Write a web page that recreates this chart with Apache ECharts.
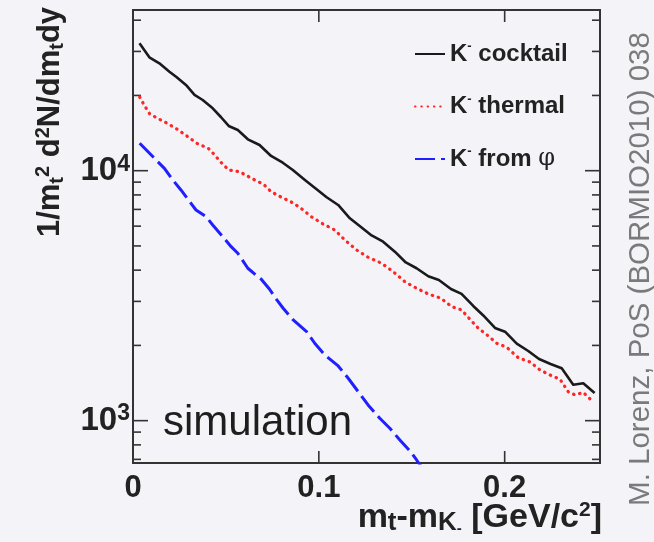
<!DOCTYPE html>
<html>
<head>
<meta charset="utf-8">
<script src="https://cdn.jsdelivr.net/npm/echarts@6/dist/echarts.min.js"></script>
<style>
html,body{margin:0;padding:0;background:#f3f3f8;}
#chart{width:654px;height:542px;}
</style>
</head>
<body>
<div id="chart"></div>
<script>
// ---- data ----
const cocktailX = [0.0035,0.0088,0.0142,0.0196,0.0232,0.0285,0.0331,0.0375,0.0429,0.0474,0.0515,0.0564,0.0618,0.0681,0.0743,0.0806,0.0860,0.0925,0.0988,0.1042,0.1104,0.1167,0.1230,0.1284,0.1346,0.1409,0.1468,0.1526,0.1589,0.1646,0.1711,0.1768,0.1831,0.1885,0.1948,0.2002,0.2065,0.2127,0.2185,0.2247,0.2307,0.2369,0.2423,0.2484];
const cocktailY = [32330,28420,26890,24890,23770,22030,20090,19180,17770,16360,15100,14550,13350,12670,11450,10760,10065,9180,8425,7830,7293,6450,5928,5506,5200,4742,4294,4071,3781,3655,3364,3213,2877,2636,2349,2270,2032,1900,1765,1686,1620,1393,1411,1291];

const thermalX = [0.0036,0.0063,0.0090,0.0133,0.0178,0.0232,0.0286,0.0343,0.0405,0.0435,0.0472,0.0515,0.0573,0.0645,0.0704,0.0743,0.0801,0.0849,0.0898,0.0962,0.1023,0.1086,0.1140,0.1203,0.1265,0.1338,0.1400,0.1463,0.1526,0.1589,0.1657,0.1715,0.1768,0.1813,0.1858,0.1912,0.1957,0.2011,0.2073,0.2136,0.2190,0.2244,0.2298,0.2342,0.2379,0.2423,0.2475];
const thermalY = [19710,18150,16860,16200,15560,14750,13830,12870,12290,11660,10830,10065,9908,9265,8806,8241,7812,7516,7125,6527,6120,5791,5282,4818,4504,4262,3945,3597,3385,3213,3088,2858,2773,2545,2343,2182,2040,1967,1786,1717,1595,1523,1464,1306,1267,1297,1191];

const phiX = [0.0036,0.0124,0.0169,0.0214,0.0258,0.0312,0.0339,0.0393,0.0429,0.0483,0.0528,0.0564,0.0618,0.0654,0.0689,0.0735,0.0774,0.0808,0.0862,0.0934,0.0978,0.1032,0.1104,0.1158,0.1212,0.1265,0.1328,0.1382,0.1436,0.1495,0.1526,0.1560];
const phiY = [12870,11040,10220,9180,8373,7407,6963,6546,6064,5445,4966,4673,4071,3862,3688,3355,3040,2816,2529,2270,2040,1831,1655,1478,1306,1156,1022,932,837,749,696,640];

const seriesNames = ['K- cocktail', 'K- thermal', 'K- from φ'];
const xTickValues = [0, 0.1, 0.2];
const yMajorTicks = [1000, 10000];
const yMinorTicks = [700, 800, 900, 2000, 3000, 4000, 5000, 6000, 7000, 8000, 9000, 20000, 30000, 40000];

// axis limits
const X_MIN = 0, X_MAX = 0.2513;
const Y_MIN = 677, Y_MAX = 43940;

const zip = (xs, ys) => xs.map((x, i) => [x, ys[i]]);
const FONT = 'Liberation Sans';

const chart = echarts.init(document.getElementById('chart'), null, {renderer: 'canvas'});

const yTickData = yMajorTicks.map(v => [X_MIN, v, 15]).concat(yMinorTicks.map(v => [X_MIN, v, 8]));
const xTickData = xTickValues.filter(v => v > 0).map(v => [v, Y_MIN, 12]);

const option = {
  animation: false,
  backgroundColor: '#f3f3f8',
  grid: {left: 133, top: 10, right: 54, bottom: 79, show: true, borderColor: '#333', borderWidth: 2, backgroundColor: 'transparent'},
  xAxis: {
    type: 'value', min: X_MIN, max: X_MAX, interval: 0.1,
    axisLine: {show: false}, axisTick: {show: false}, splitLine: {show: false},
    axisLabel: {
      margin: 10, fontFamily: FONT, fontSize: 31, fontWeight: 'bold', color: '#222',
      showMaxLabel: false,
      formatter: v => (Math.abs(v * 10 - Math.round(v * 10)) < 1e-6 ? String(Math.round(v * 10) / 10) : '')
    }
  },
  yAxis: {
    type: 'log', logBase: 10, min: Y_MIN, max: Y_MAX,
    axisLine: {show: false}, axisTick: {show: false}, splitLine: {show: false}, minorTick: {show: false},
    axisLabel: {
      margin: 3, showMinLabel: false, showMaxLabel: false,
      formatter: v => {
        const l = Math.log10(v), e = Math.round(l);
        if (Math.abs(l - e) > 1e-6) return '';
        return '{a|10}{b|' + e + '}';
      },
      rich: {
        a: {fontFamily: FONT, fontSize: 33, fontWeight: 'bold', color: '#222', lineHeight: 36},
        b: {fontFamily: FONT, fontSize: 23, fontWeight: 'bold', color: '#222', lineHeight: 20, verticalAlign: 'top'}
      }
    }
  },
  legend: {
    orient: 'vertical', left: 414, top: 40, padding: 0, itemWidth: 30, itemHeight: 14, itemGap: 26.5,
    selectedMode: false, data: seriesNames,
    itemStyle: {opacity: 0},
    formatter: name => {
      const rest = name.slice(3);
      if (rest.indexOf('φ') >= 0) return '{k|K}{s|-}{t| from }{p|φ}';
      return '{k|K}{s|-}{t| ' + rest + '}';
    },
    textStyle: {
      rich: {
        k: {fontFamily: FONT, fontSize: 24, fontWeight: 'bold', color: '#222', lineHeight: 28},
        s: {fontFamily: FONT, fontSize: 13, fontWeight: 'bold', color: '#222', lineHeight: 18, verticalAlign: 'top'},
        t: {fontFamily: FONT, fontSize: 24, fontWeight: 'bold', color: '#222', lineHeight: 28},
        p: {fontFamily: 'DejaVu Serif', fontSize: 24, color: '#222', lineHeight: 28}
      }
    }
  },
  series: [
    {
      name: seriesNames[0], type: 'line', data: zip(cocktailX, cocktailY),
      symbol: 'none', showSymbol: false, clip: true,
      itemStyle: {color: '#1a1a1a'},
      lineStyle: {color: '#1a1a1a', width: 2.6, join: 'round'}
    },
    {
      name: seriesNames[1], type: 'line', data: zip(thermalX, thermalY),
      symbol: 'none', showSymbol: false, clip: true,
      itemStyle: {color: '#ff2626'},
      lineStyle: {color: '#ff2626', width: 3.2, type: [0.5, 5.8], cap: 'round'}
    },
    {
      name: seriesNames[2], type: 'line', data: zip(phiX, phiY),
      symbol: 'none', showSymbol: false, clip: true,
      itemStyle: {color: '#1f1fff'},
      lineStyle: {color: '#1f1fff', width: 3, type: [20, 6]}
    },
    {
      type: 'custom', name: 'yticks', data: yTickData, silent: true, encode: {x: 0, y: 1},
      renderItem: (params, api) => {
        const v = api.value(1), len = api.value(2);
        const pl = api.coord([X_MIN, v]), pr = api.coord([X_MAX, v]);
        const st = {stroke: '#333', lineWidth: 1.6};
        return {type: 'group', children: [
          {type: 'line', shape: {x1: pl[0], y1: pl[1], x2: pl[0] + len, y2: pl[1]}, style: st},
          {type: 'line', shape: {x1: pr[0], y1: pr[1], x2: pr[0] - len, y2: pr[1]}, style: st}
        ]};
      }
    },
    {
      type: 'custom', name: 'xticks', data: xTickData, silent: true, encode: {x: 0, y: 1},
      renderItem: (params, api) => {
        const x = api.value(0), len = api.value(2);
        const pb = api.coord([x, Y_MIN]), pt = api.coord([x, Y_MAX]);
        const st = {stroke: '#333', lineWidth: 1.6};
        return {type: 'group', children: [
          {type: 'line', shape: {x1: pb[0], y1: pb[1], x2: pb[0], y2: pb[1] - len}, style: st},
          {type: 'line', shape: {x1: pt[0], y1: pt[1], x2: pt[0], y2: pt[1] + len}, style: st}
        ]};
      }
    }
  ],
  graphic: [
    {
      type: 'text', left: 163, top: 402, silent: true,
      style: {text: 'simulation', fontFamily: FONT, fontSize: 42, fill: '#1e1e1e'}
    },
    {
      type: 'text', x: 50, y: 122, rotation: Math.PI / 2, silent: true,
      style: {
        text: '{a|1/m}{sb|t}{sp|2}{a| d}{sp|2}{a|N/dm}{sb|t}{a|dy}',
        align: 'center', verticalAlign: 'middle',
        rich: {
          a: {fontFamily: FONT, fontSize: 31, fontWeight: 'bold', fill: '#222', lineHeight: 34},
          sp: {fontFamily: FONT, fontSize: 20, fontWeight: 'bold', fill: '#222', lineHeight: 20, verticalAlign: 'top'},
          sb: {fontFamily: FONT, fontSize: 20, fontWeight: 'bold', fill: '#222', lineHeight: 12, verticalAlign: 'bottom'}
        }
      }
    },
    {
      type: 'text', x: 602, y: 518, silent: true,
      style: {
        text: '{a|m}{sb|t}{a|-m}{sb|K}{ss|-}{a| [GeV/c}{sp|2}{a|]}',
        align: 'right', verticalAlign: 'middle',
        rich: {
          a: {fontFamily: FONT, fontSize: 34, fontWeight: 'bold', fill: '#222', lineHeight: 36},
          sp: {fontFamily: FONT, fontSize: 21, fontWeight: 'bold', fill: '#222', lineHeight: 20, verticalAlign: 'top'},
          ss: {fontFamily: FONT, fontSize: 15, fontWeight: 'bold', fill: '#222', lineHeight: 28, verticalAlign: 'bottom'},
          sb: {fontFamily: FONT, fontSize: 26, fontWeight: 'bold', fill: '#222', lineHeight: 12, verticalAlign: 'bottom'}
        }
      }
    },
    {
      type: 'text', x: 641, y: 269, rotation: Math.PI / 2, silent: true,
      style: {
        text: 'M. Lorenz, PoS (BORMIO2010) 038', align: 'center', verticalAlign: 'middle',
        fontFamily: FONT, fontSize: 29.5, fill: '#7a7a7a'
      }
    }
  ]
};
chart.setOption(option);
</script>
</body>
</html>
